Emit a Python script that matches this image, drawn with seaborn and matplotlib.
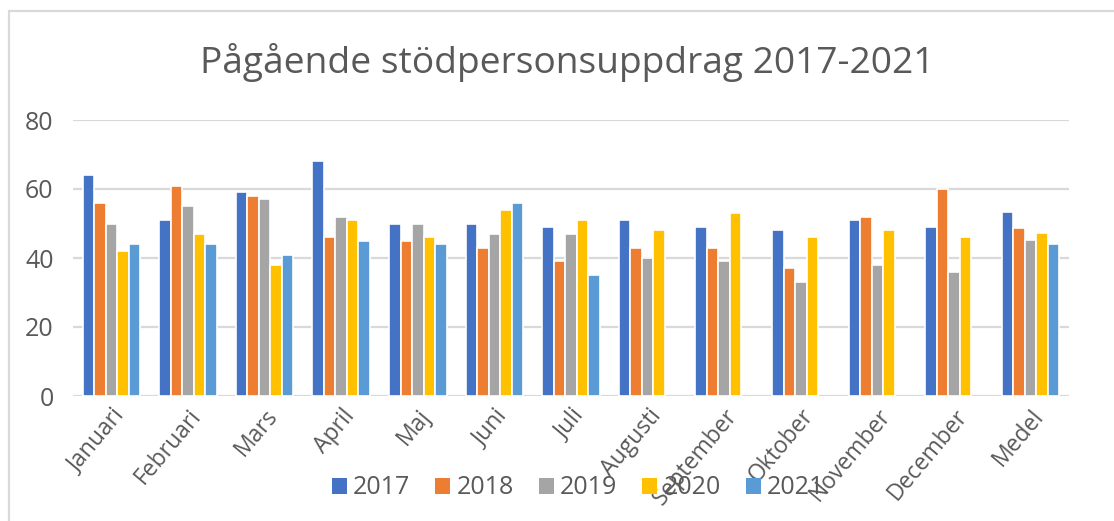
import numpy as np
import pandas as pd
import matplotlib
matplotlib.use("Agg")
import matplotlib.pyplot as plt
import seaborn as sns
from matplotlib.patches import Rectangle

categories = ["Januari", "Februari", "Mars", "April", "Maj", "Juni", "Juli",
              "Augusti", "September", "Oktober", "November", "December", "Medel"]
years = ["2017", "2018", "2019", "2020", "2021"]
v2017 = [64, 51, 59, 68, 50, 50, 49, 51, 49, 48, 51, 49, 53.3]
v2018 = [56, 61, 58, 46, 45, 43, 39, 43, 43, 37, 52, 60, 48.6]
v2019 = [50, 55, 57, 52, 50, 47, 47, 40, 39, 33, 38, 36, 45.3]
v2020 = [42, 47, 38, 51, 46, 54, 51, 48, 53, 46, 48, 46, 47.3]
v2021 = [44, 44, 41, 45, 44, 56, 35, np.nan, np.nan, np.nan, np.nan, np.nan, 44.1]
colors = ["#4472C4", "#ED7D31", "#A5A5A5", "#FFC000", "#5B9BD5"]
title = "Pågående stödpersonsuppdrag 2017-2021"

rows = []
for y, vals in zip(years, [v2017, v2018, v2019, v2020, v2021]):
    for c, v in zip(categories, vals):
        rows.append({"Månad": c, "År": y, "Antal": v})
df = pd.DataFrame(rows)

sns.set_theme(style="white")
plt.rcParams["font.family"] = ["Open Sans", "DejaVu Sans"]
txt = "#595959"

fig = plt.figure(figsize=(11.14, 5.21), dpi=100)
ax = fig.add_axes([73/1114, 1-396/521, (1069-73)/1114, (396-120)/521])

sns.barplot(data=df, x="Månad", y="Antal", hue="År", order=categories,
            hue_order=years, palette=colors, width=0.75, ax=ax,
            edgecolor="white", linewidth=1.2, saturation=1, errorbar=None)

ax.set_ylim(0, 80)
ax.set_yticks([0, 20, 40, 60, 80])
ax.set_xlim(-0.5, len(categories) - 0.5)
ax.grid(axis="y", color="#d9d9d9", linewidth=1.6)
ax.set_axisbelow(True)
for s in ax.spines.values():
    s.set_visible(False)
ax.set_xlabel("")
ax.set_ylabel("")
ax.tick_params(axis="y", labelsize=18, labelcolor=txt, length=0, pad=14)
ax.tick_params(axis="x", labelsize=16.5, labelcolor=txt, length=0, pad=6)
plt.setp(ax.get_xticklabels(), rotation=50, ha="right", rotation_mode="anchor")

ax.get_legend().remove()
handles = [Rectangle((0, 0), 1, 1, facecolor=c, edgecolor="none") for c in colors]
fig.legend(handles, years, loc="center", bbox_to_anchor=(578/1114, 1-488/521),
           ncol=5, frameon=False, fontsize=18, labelcolor=txt,
           handlelength=0.6, handleheight=0.6, handletextpad=0.25,
           columnspacing=1.0)

fig.text(567/1114, 1-62/521, title, ha="center", va="center", fontsize=26.7, color=txt)

fig.patches.append(Rectangle((9/1114, -0.01), 1.1, 1-11/521+0.01, transform=fig.transFigure,
                             fill=False, edgecolor="#d9d9d9", linewidth=1.6))

fig.savefig("out.png", dpi=100)
